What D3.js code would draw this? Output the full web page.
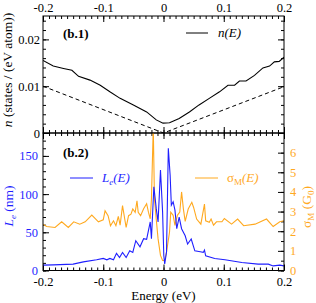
<!DOCTYPE html>
<html>
<head>
<meta charset="utf-8">
<script src="https://cdn.jsdelivr.net/npm/d3@7"></script>
<style>
  body { margin: 0; background: #fff; }
</style>
</head>
<body>
<svg id="chart" width="316" height="303"></svg>
<script>
// energy grid (eV) and density of states n(E), states/(eV atom)
var nEnergy = [-0.2, -0.183, -0.166, -0.152, -0.141, -0.122, -0.105, -0.089, -0.072, -0.05, -0.028, -0.012, -0.0008,
  0.01, 0.026, 0.043, 0.059, 0.076, 0.093, 0.107, 0.118, 0.126, 0.137, 0.151, 0.165, 0.176, 0.184, 0.192, 0.2];
var nValues = [0.0155, 0.0143, 0.0138, 0.0134, 0.0121, 0.0113, 0.0102, 0.0088, 0.0074, 0.006, 0.0045, 0.0028, 0.0021,
  0.0022, 0.0031, 0.0045, 0.006, 0.0074, 0.0088, 0.0102, 0.0102, 0.0111, 0.0111, 0.0123, 0.0139, 0.0143, 0.0152, 0.0153, 0.0162];
// dashed reference line
var refEnergy = [-0.2, 0, 0.2];
var refValues = [0.01, 0, 0.0099];

// mean free path L_e (nm)
var leEnergy = [-0.2, -0.183, -0.15, -0.133, -0.111, -0.1, -0.094, -0.089, -0.083, -0.078, -0.073, -0.068, -0.062, -0.056,
  -0.051, -0.046, -0.039, -0.033, -0.028, -0.022, -0.02, -0.016, -0.012, -0.009, -0.005, -0.0015, 0.0005, 0.002, 0.005,
  0.008, 0.011, 0.013, 0.016, 0.019, 0.022, 0.026, 0.03, 0.036, 0.04, 0.046, 0.052, 0.061, 0.066, 0.068, 0.07, 0.085,
  0.102, 0.13, 0.157, 0.174, 0.182, 0.193, 0.2];
var leValues = [7, 7.4, 8.3, 11.3, 14, 15.8, 14, 15.8, 14, 22.4, 17, 23.7, 17, 25.8,
  23.7, 39, 31, 41.6, 40.8, 63.6, 41.6, 109.6, 81, 63.6, 131.6, 76.7, 19.7, 8.7, 24,
  160, 125, 85.5, 90, 79, 54.7, 70, 54.7, 45.5, 34.6, 41.2, 25.8, 24.5, 23.7, 26.7, 19.2, 15.8,
  14, 10.5, 8.3, 8.3, 6, 7, 6];

// conductivity sigma_M (G_0)
var sigEnergy = [-0.2, -0.194, -0.18, -0.169, -0.158, -0.149, -0.139, -0.13, -0.119, -0.108, -0.1, -0.097, -0.092, -0.088,
  -0.083, -0.079, -0.075, -0.072, -0.068, -0.062, -0.058, -0.054, -0.051, -0.047, -0.044, -0.042, -0.038, -0.033,
  -0.028, -0.025, -0.022, -0.02, -0.017, -0.015, -0.012, -0.009, -0.005, -0.0015, 0.002, 0.005, 0.01, 0.012, 0.016,
  0.019, 0.023, 0.027, 0.03, 0.033, 0.036, 0.041, 0.047, 0.05, 0.055, 0.062, 0.068, 0.07, 0.076, 0.079, 0.083, 0.088,
  0.097, 0.101, 0.113, 0.123, 0.133, 0.152, 0.171, 0.182, 0.193, 0.2];
var sigValues = [2.36, 2.24, 2.19, 2.48, 2.19, 2.48, 2.36, 2.48, 2.82, 2.48, 2.58, 3.04, 2.79, 2.28,
  2.53, 2.28, 2.76, 2.31, 3.3, 2.19, 2.79, 2.87, 3.13, 2.96, 3.55, 2.96, 2.79, 3.14,
  3.4, 2.97, 2.63, 3.65, 7.3, 3.65, 2.6, 1.61, 0.77, 0.51, 0.51, 0.93, 1.95, 2.97, 2.81,
  2.3, 2.81, 2.97, 4.0, 3.14, 2.5, 3.13, 3.47, 3.21, 2.62, 2.36, 3.38, 2.53, 2.45, 2.62, 2.31, 2.48,
  2.48, 2.65, 2.36, 2.62, 2.28, 2.36, 2.62, 2.24, 2.48, 2.53];

var xTicks = [-0.2, -0.1, 0, 0.1, 0.2];
var nTicks = [0, 0.01, 0.02];
var leTicks = [0, 50, 100, 150];
var sigTicks = [0, 1, 2, 3, 4, 5, 6];

var serif = "'Liberation Serif', 'Times New Roman', Times, 'DejaVu Serif', serif";
var svg = d3.select("#chart").attr("font-family", serif);
var left = 43, right = 284, top1 = 16, mid = 133, bottom2 = 270.5;
var blue = "#1f1fff", orange = "#ffa91f";

var x = d3.scaleLinear().domain([-0.2, 0.2]).range([left, right]);
var yN = d3.scaleLinear().domain([0, 0.025]).range([mid, top1]);
var yL = d3.scaleLinear().domain([0, 180]).range([bottom2, mid]);
var yS = d3.scaleLinear().domain([0, 7]).range([bottom2, mid]);

var fmtX = function(d) { return String(+d.toFixed(1)); };
var xMinor = d3.range(-0.2, 0.2001, 0.01).map(function(d) { return +d.toFixed(2); });

function addAxis(gen, tx, ty, vals, size, fmt, color, pad) {
  var g = svg.append("g").attr("transform", "translate(" + tx + "," + ty + ")")
    .call(gen.tickValues(vals).tickSize(size).tickPadding(pad || 3).tickFormat(fmt || ""));
  g.attr("font-family", serif);
  g.select(".domain").remove();
  g.selectAll("line").attr("stroke", "#000");
  g.selectAll("text").attr("font-size", 12.5).attr("font-family", serif).attr("fill", color || "#000");
  return g;
}

// clip paths
svg.append("clipPath").attr("id", "c1").append("rect").attr("x", left).attr("y", top1).attr("width", right - left).attr("height", mid - top1);
svg.append("clipPath").attr("id", "c2").append("rect").attr("x", left).attr("y", mid).attr("width", right - left).attr("height", bottom2 - mid);

// ---- top panel ----
addAxis(d3.axisTop(x), 0, top1, xMinor, -3);
addAxis(d3.axisTop(x), 0, top1, xTicks, -6, fmtX, null, 4);
addAxis(d3.axisBottom(x), 0, mid, xMinor, -3);
addAxis(d3.axisBottom(x), 0, mid, xTicks, -6);
addAxis(d3.axisLeft(yN), left, 0, d3.range(0, 0.0241, 0.002), -3);
addAxis(d3.axisLeft(yN), left, 0, nTicks, -6, function(d) { return String(d); });
addAxis(d3.axisRight(yN), right, 0, d3.range(0, 0.0241, 0.002), -3);
addAxis(d3.axisRight(yN), right, 0, nTicks, -6);

var line = function(ys) {
  return d3.line().x(function(d) { return x(d[0]); }).y(function(d) { return ys(d[1]); });
};
var g1 = svg.append("g").attr("clip-path", "url(#c1)");
g1.append("path").datum(d3.zip(refEnergy, refValues)).attr("d", line(yN))
  .attr("fill", "none").attr("stroke", "#000").attr("stroke-width", 1).attr("stroke-dasharray", "4,3");
g1.append("path").datum(d3.zip(nEnergy, nValues)).attr("d", line(yN))
  .attr("fill", "none").attr("stroke", "#000").attr("stroke-width", 1.1);

svg.append("rect").attr("x", left).attr("y", top1).attr("width", right - left).attr("height", mid - top1)
  .attr("fill", "none").attr("stroke", "#000");

svg.append("text").attr("x", 63).attr("y", 38).attr("font-size", 13).attr("font-weight", "bold").text("(b.1)");
svg.append("line").attr("x1", 186).attr("x2", 208).attr("y1", 33).attr("y2", 33).attr("stroke", "#000");
svg.append("text").attr("x", 218).attr("y", 37).attr("font-size", 13).attr("font-style", "italic").text("n(E)");

svg.append("text").attr("transform", "translate(12,70) rotate(-90)").attr("text-anchor", "middle")
  .attr("font-size", 13.5)
  .call(function(t) {
    t.append("tspan").attr("font-style", "italic").text("n");
    t.append("tspan").text(" (states / (eV atom))");
  });

// ---- bottom panel ----
addAxis(d3.axisTop(x), 0, mid, xMinor, -3);
addAxis(d3.axisTop(x), 0, mid, xTicks, -6);
addAxis(d3.axisBottom(x), 0, bottom2, xMinor, -3);
addAxis(d3.axisBottom(x), 0, bottom2, xTicks, -6, fmtX, null, 6.5);
addAxis(d3.axisLeft(yL), left, 0, d3.range(0, 181, 10), -3);
addAxis(d3.axisLeft(yL), left, 0, leTicks, -6, function(d) { return String(d); }, blue, 5);
addAxis(d3.axisRight(yS), right, 0, d3.range(0, 7.01, 0.5), -3);
addAxis(d3.axisRight(yS), right, 0, sigTicks, -6, function(d) { return String(d); }, orange, 6);

var g2 = svg.append("g").attr("clip-path", "url(#c2)");
g2.append("path").datum(d3.zip(sigEnergy, sigValues)).attr("d", line(yS))
  .attr("fill", "none").attr("stroke", orange).attr("stroke-width", 1.1);
g2.append("path").datum(d3.zip(leEnergy, leValues)).attr("d", line(yL))
  .attr("fill", "none").attr("stroke", blue).attr("stroke-width", 1.1);

svg.append("rect").attr("x", left).attr("y", mid).attr("width", right - left).attr("height", bottom2 - mid)
  .attr("fill", "none").attr("stroke", "#000");

svg.append("text").attr("x", 63).attr("y", 157).attr("font-size", 13).attr("font-weight", "bold").text("(b.2)");

svg.append("line").attr("x1", 70).attr("x2", 93).attr("y1", 178).attr("y2", 178).attr("stroke", blue);
svg.append("text").attr("x", 102).attr("y", 182).attr("font-size", 13).attr("font-style", "italic").attr("fill", blue)
  .call(function(t) {
    t.append("tspan").text("L");
    t.append("tspan").attr("font-size", 9).attr("dy", 3).text("e");
    t.append("tspan").attr("dy", -3).text("(E)");
  });

svg.append("line").attr("x1", 195).attr("x2", 218).attr("y1", 178).attr("y2", 178).attr("stroke", orange);
svg.append("text").attr("x", 227).attr("y", 182).attr("font-size", 13).attr("fill", orange)
  .call(function(t) {
    t.append("tspan").text("σ");
    t.append("tspan").attr("font-size", 9).attr("dy", 3).text("M");
    t.append("tspan").attr("dy", -3).attr("font-style", "italic").text("(E)");
  });

svg.append("text").attr("transform", "translate(13,206) rotate(-90)").attr("text-anchor", "middle")
  .attr("font-size", 13.5).attr("fill", blue)
  .call(function(t) {
    t.append("tspan").attr("font-style", "italic").text("L");
    t.append("tspan").attr("font-size", 9).attr("dy", 3).attr("font-style", "italic").text("e");
    t.append("tspan").attr("dy", -3).text(" (nm)");
  });

svg.append("text").attr("transform", "translate(311,207) rotate(-90)").attr("text-anchor", "middle")
  .attr("font-size", 13.5).attr("fill", orange)
  .call(function(t) {
    t.append("tspan").text("σ");
    t.append("tspan").attr("font-size", 9).attr("dy", 3).text("M");
    t.append("tspan").attr("dy", -3).text(" (G");
    t.append("tspan").attr("font-size", 9).attr("dy", 3).text("0");
    t.append("tspan").attr("dy", -3).text(")");
  });

svg.append("text").attr("x", (left + right) / 2).attr("y", 299.5).attr("text-anchor", "middle")
  .attr("font-size", 13).text("Energy (eV)");
</script>
</body>
</html>
